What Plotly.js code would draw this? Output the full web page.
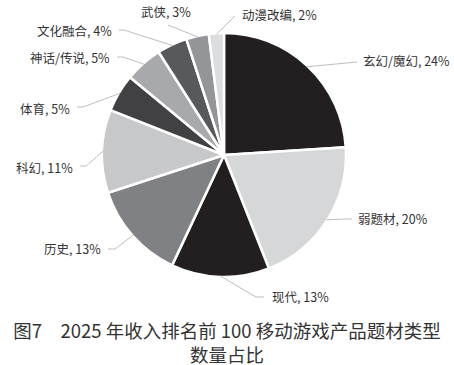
<!DOCTYPE html>
<html>
<head>
<meta charset="utf-8">
<script src="https://cdn.plot.ly/plotly-3.0.1.min.js"></script>
<style>html,body{margin:0;padding:0;background:#fff;}#chart{width:454px;height:365px;}</style>
</head>
<body>
<div id="chart"></div>
<script>
// Data
const categories = ['玄幻/魔幻', '弱题材', '现代', '历史', '科幻', '体育', '神话/传说', '文化融合', '武侠', '动漫改编'];
const shares = [24, 20, 13, 13, 11, 5, 5, 4, 3, 2];
const sliceColors = ['#231f20', '#d6d7d8', '#231f20', '#808184', '#c7c8ca', '#414042', '#a7a9ac', '#58595b', '#939598', '#dcdddf'];
const titleText = '图7　2025 年收入排名前 100 移动游戏产品题材类型<br>数量占比';

// Layout helpers (pixel placement of outside labels; not data)
const W = 454, H = 365;
const cx = 224, cy = 155, R = 122;
// [text x, text y, anchor, leader end x, leader end y, elbow]
const labelPlace = [
  [361, 61, 'left', 357, 62, 0],
  [356, 218, 'left', 352, 219, 6],
  [270, 296, 'left', 264, 297, 8],
  [103, 248, 'right', 108, 249, 7],
  [75, 167, 'right', 80, 166, 6],
  [72, 108, 'right', 77, 107, 6],
  [112, 57, 'right', 117, 57, 6],
  [114, 30, 'right', 119, 30, 5],
  [193, 12, 'right', 168, 25, 0],
  [240, 15, 'left', 235, 16, 0]
];

const px = x => x / W;
const py = y => 1 - y / H;

const total = shares.reduce((a, b) => a + b, 0);
const annotations = [];
const shapes = [];
let cum = 0;
shares.forEach((v, i) => {
  const mid = (cum + v / 2) / total * 2 * Math.PI;
  cum += v;
  const ex = cx + (R - 1) * Math.sin(mid);
  const ey = cy - (R - 1) * Math.cos(mid);
  const [tx, ty, anc, lx, ly, elb] = labelPlace[i];
  const elbX = anc === 'left' ? lx - elb : lx + elb;
  shapes.push({
    type: 'path', xref: 'paper', yref: 'paper',
    path: `M ${px(ex)},${py(ey)} L ${px(elbX)},${py(ly)} L ${px(lx)},${py(ly)}`,
    line: {color: '#bcbec0', width: 1}
  });
  annotations.push({
    xref: 'paper', yref: 'paper', x: px(tx), y: py(ty),
    xanchor: anc, yanchor: 'middle', showarrow: false,
    text: `${categories[i]}, ${v}%`,
    font: {family: '"Noto Sans CJK SC", "Noto Sans", sans-serif', size: 12.5, color: '#333333'}
  });
});

const trace = {
  type: 'pie',
  labels: categories,
  values: shares,
  sort: false,
  direction: 'clockwise',
  rotation: 0,
  textinfo: 'none',
  hoverinfo: 'none',
  marker: {colors: sliceColors, line: {color: '#ffffff', width: 2.5}},
  domain: {x: [px(cx - R), px(cx + R)], y: [py(cy + R), py(cy - R)]},
  showlegend: false
};

const layout = {
  width: W, height: H,
  margin: {l: 0, r: 0, t: 0, b: 0},
  paper_bgcolor: '#ffffff',
  showlegend: false,
  title: {
    text: titleText,
    x: 0.5, xanchor: 'center',
    y: 1 - 338 / H, yanchor: 'top', yref: 'container',
    font: {family: '"Noto Sans CJK SC", sans-serif', size: 18.5, color: '#333333'}
  },
  annotations: annotations,
  shapes: shapes
};

Plotly.newPlot('chart', [trace], layout, {staticPlot: true, displayModeBar: false});
</script>
</body>
</html>
